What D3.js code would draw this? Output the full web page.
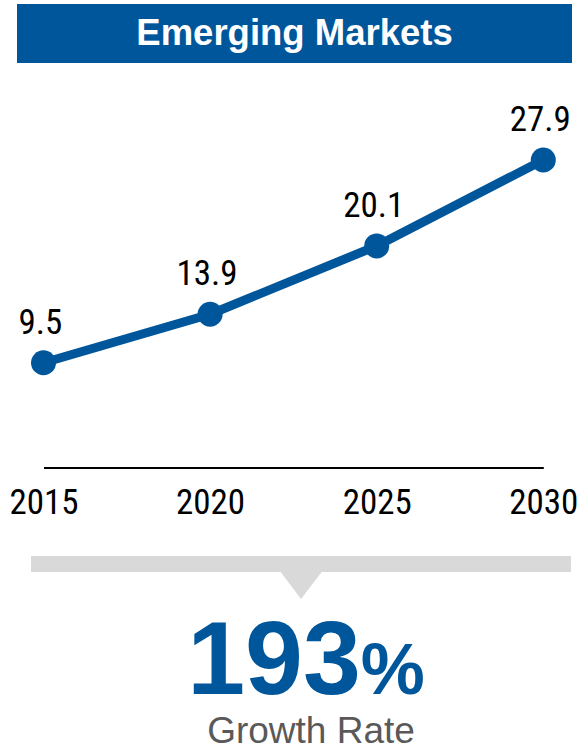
<!DOCTYPE html>
<html>
<head>
<meta charset="utf-8">
<script src="https://cdn.jsdelivr.net/npm/d3@7/dist/d3.min.js"></script>
<style>
  html, body { margin: 0; padding: 0; background: #fff; }
  svg { display: block; }
</style>
</head>
<body>
<div id="chart"></div>
<script>
// Emerging markets size by year, with overall growth callout
const title = "Emerging Markets";
const years = [2015, 2020, 2025, 2030];
const values = [9.5, 13.9, 20.1, 27.9];
const valueLabels = ["9.5", "13.9", "20.1", "27.9"];
const growthValue = "193";
const growthUnit = "%";
const growthCaption = "Growth Rate";

const W = 580, H = 751;
const blue = "#00569b";
const narrow = "'Liberation Sans Narrow', 'Arial Narrow', 'Roboto Condensed', sans-serif";
const sans = "'Liberation Sans', Arial, Helvetica, sans-serif";

const svg = d3.select("#chart").append("svg")
  .attr("width", W).attr("height", H);

// Title banner
svg.append("rect")
  .attr("x", 17).attr("y", 4).attr("width", 555).attr("height", 59)
  .attr("fill", blue);
svg.append("text")
  .attr("x", 294.5).attr("y", 45)
  .attr("text-anchor", "middle")
  .attr("font-family", sans).attr("font-weight", "bold")
  .attr("font-size", 36.5).attr("fill", "#fff")
  .text(title);

// Scales
const x = d3.scaleLinear().domain([2015, 2030]).range([43.5, 543.3]);
const y = d3.scaleLinear().domain([0, 27.9]).range([467.4, 160]);

const data = years.map((yr, i) => ({ year: yr, value: values[i], label: valueLabels[i] }));

// Baseline axis
const axis = d3.axisBottom(x)
  .tickValues(years)
  .tickFormat(d3.format("d"))
  .tickSize(0)
  .tickPadding(21);
const axisG = svg.append("g")
  .attr("transform", `translate(0,${y(0)})`)
  .call(axis);
axisG.select(".domain").attr("stroke", "#000").attr("stroke-width", 2);
axisG.selectAll(".tick text")
  .attr("font-family", narrow).attr("font-size", 35).attr("fill", "#000")
  .attr("dy", "0.72em");

// Line
const line = d3.line().x(d => x(d.year)).y(d => y(d.value));
svg.append("path")
  .datum(data)
  .attr("d", line)
  .attr("fill", "none")
  .attr("stroke", blue)
  .attr("stroke-width", 9)
  .attr("stroke-linejoin", "round");

// Markers
svg.selectAll("circle.pt").data(data).enter().append("circle")
  .attr("class", "pt")
  .attr("cx", d => x(d.year)).attr("cy", d => y(d.value))
  .attr("r", 12.5)
  .attr("fill", blue);

// Value labels
svg.selectAll("text.val").data(data).enter().append("text")
  .attr("class", "val")
  .attr("x", d => x(d.year) - 3).attr("y", d => y(d.value) - 29)
  .attr("text-anchor", "middle")
  .attr("font-family", narrow).attr("font-size", 35).attr("fill", "#000")
  .text(d => d.label);

// Growth callout: gray bar with pointer
svg.append("rect")
  .attr("x", 31).attr("y", 556).attr("width", 540).attr("height", 16)
  .attr("fill", "#d9d9d9");
svg.append("path")
  .attr("d", "M280.7,572 L321.7,572 L301,599 Z")
  .attr("fill", "#d9d9d9");

const big = svg.append("text")
  .attr("x", 306).attr("y", 694)
  .attr("text-anchor", "middle")
  .attr("font-family", sans).attr("font-weight", "bold")
  .attr("fill", blue);
big.append("tspan").attr("font-size", 104).text(growthValue);
big.append("tspan").attr("font-size", 72).text(growthUnit);

svg.append("text")
  .attr("x", 311).attr("y", 743)
  .attr("text-anchor", "middle")
  .attr("font-family", sans)
  .attr("font-size", 37).attr("fill", "#595959")
  .text(growthCaption);
</script>
</body>
</html>
